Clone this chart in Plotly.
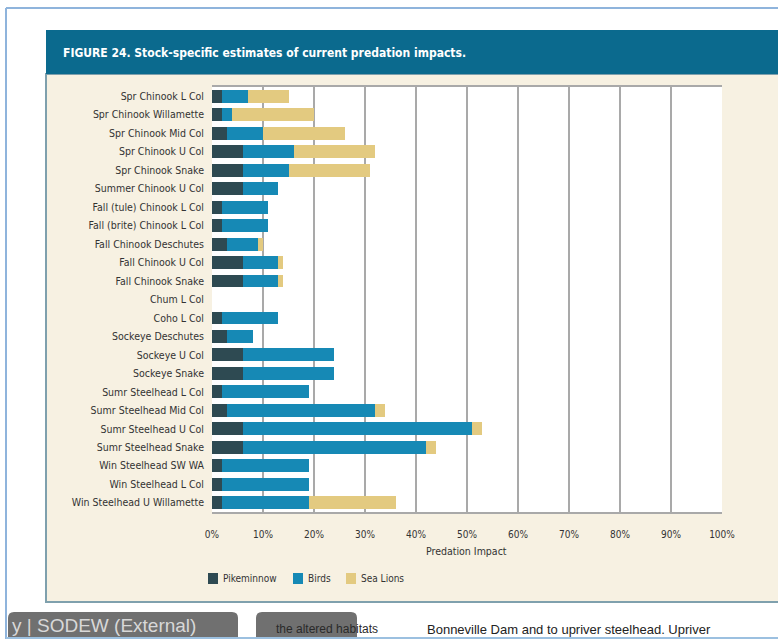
import plotly.graph_objects as go

categories = [
    "Spr Chinook L Col", "Spr Chinook Willamette", "Spr Chinook Mid Col",
    "Spr Chinook U Col", "Spr Chinook Snake", "Summer Chinook U Col",
    "Fall (tule) Chinook L Col", "Fall (brite) Chinook L Col",
    "Fall Chinook Deschutes", "Fall Chinook U Col", "Fall Chinook Snake",
    "Chum L Col", "Coho L Col", "Sockeye Deschutes", "Sockeye U Col",
    "Sockeye Snake", "Sumr Steelhead L Col", "Sumr Steelhead Mid Col",
    "Sumr Steelhead U Col", "Sumr Steelhead Snake", "Win Steelhead SW WA",
    "Win Steelhead L Col", "Win Steelhead U Willamette",
]
pikeminnow = [2, 2, 3, 6, 6, 6, 2, 2, 3, 6, 6, 0, 2, 3, 6, 6, 2, 3, 6, 6, 2, 2, 2]
birds = [5, 2, 7, 10, 9, 7, 9, 9, 6, 7, 7, 0, 11, 5, 18, 18, 17, 29, 45, 36, 17, 17, 17]
sea_lions = [8, 16, 16, 16, 16, 0, 0, 0, 1, 1, 1, 0, 0, 0, 0, 0, 0, 2, 2, 2, 0, 0, 17]
series_names = ["Pikeminnow", "Birds", "Sea Lions"]
x_ticks = [0, 10, 20, 30, 40, 50, 60, 70, 80, 90, 100]
x_tick_labels = ["0%", "10%", "20%", "30%", "40%", "50%", "60%", "70%", "80%", "90%", "100%"]

W, H = 778, 639
L, R, T, B = 212, 722, 87, 512


def px(x):
    return (x - L) / (R - L)


def py(y):
    return (B - y) / (B - T)


FONT = "Liberation Sans Narrow, DejaVu Sans Condensed, Arial Narrow, sans-serif"
SANS = "Liberation Sans, Arial, sans-serif"
C_PIKE = "#2e4a52"
C_BIRD = "#1689b5"
C_SEAL = "#e3ca80"
colors = [C_PIKE, C_BIRD, C_SEAL]
CREAM = "#f7f1e2"
TEAL = "#0b6a8e"
GRID = "#a9a9a9"

fig = go.Figure()
for name, vals, col in zip(series_names, [pikeminnow, birds, sea_lions], colors):
    fig.add_trace(go.Bar(y=categories, x=vals, name=name, orientation="h",
                         marker=dict(color=col, line=dict(width=0))))


def rounded_top(x0, x1, y0, y1, r=6):
    X0, X1 = px(x0), px(x1)
    Y0, Y1 = py(y0), py(y1)
    rx = r / (R - L)
    ry = r / (B - T)
    return (f"M{X0},{Y1} L{X0},{Y0 - ry} Q{X0},{Y0} {X0 + rx},{Y0} "
            f"L{X1 - rx},{Y0} Q{X1},{Y0} {X1},{Y0 - ry} L{X1},{Y1} Z")


shapes = [
    # outer light-blue frame
    dict(type="line", x0=px(6), x1=px(6), y0=py(8), y1=py(639), line=dict(color="#8fb4dc", width=2)),
    dict(type="line", x0=px(6), x1=px(778), y0=py(8), y1=py(8), line=dict(color="#8fb4dc", width=2)),
    # cream panel
    dict(type="rect", x0=px(46), x1=px(779), y0=py(74), y1=py(602), fillcolor=CREAM,
         line=dict(color="#7fa0ad", width=2)),
    # header band
    dict(type="rect", x0=px(46), x1=px(779), y0=py(30), y1=py(74), fillcolor=TEAL, line=dict(width=0)),
    # white plot area
    dict(type="rect", x0=0, x1=1, y0=0, y1=1, fillcolor="white", line=dict(width=0)),
    # bottom buttons
    dict(type="path", path=rounded_top(8, 238, 612, 645), fillcolor="#707070", line=dict(width=0)),
    dict(type="path", path=rounded_top(256, 357, 612, 645), fillcolor="#707070", line=dict(width=0)),
    dict(type="line", x0=px(6), x1=px(778), y0=py(638), y1=py(638), line=dict(color="#9cc0e0", width=2)),
]

# legend swatches (manual, to match the reference spacing)
legend_x = [208, 293, 346]
for lx, col in zip(legend_x, colors):
    shapes.append(dict(type="rect", x0=px(lx), x1=px(lx + 10), y0=py(573), y1=py(584),
                       fillcolor=col, line=dict(width=0)))
for s in shapes:
    s.update(xref="paper", yref="paper", layer="below")

annotations = [
    dict(text="<b>FIGURE 24. Stock-specific estimates of current predation impacts.</b>",
         x=px(61), y=py(53), xanchor="left", yanchor="middle", showarrow=False,
         font=dict(family=FONT, size=12, color="white")),
    dict(text="Predation Impact", x=px(466), y=py(551), xanchor="center", yanchor="middle",
         showarrow=False, font=dict(family=FONT, size=10.5, color="#333333")),
    dict(text="y | SODEW (External)", x=px(10), y=py(625), xanchor="left", yanchor="middle",
         showarrow=False, font=dict(family=SANS, size=19, color="#d8d8d8")),
    dict(text="the altered habitats", x=px(274), y=py(629), xanchor="left", yanchor="middle",
         showarrow=False, font=dict(family=SANS, size=12, color="#2a2a2a")),
    dict(text="Bonneville Dam and to upriver steelhead. Upriver", x=px(425), y=py(629),
         xanchor="left", yanchor="middle", showarrow=False,
         font=dict(family=SANS, size=13, color="#222222")),
]
for lx, name in zip(legend_x, series_names):
    annotations.append(dict(text=name, x=px(lx + 13), y=py(578.5), xanchor="left", yanchor="middle",
                            showarrow=False, font=dict(family=FONT, size=10, color="#333333")))
for a in annotations:
    a.update(xref="paper", yref="paper")

fig.update_layout(
    width=W, height=H,
    margin=dict(l=L, r=W - R, t=T, b=H - B, pad=0),
    paper_bgcolor="white", plot_bgcolor="white",
    barmode="stack", bargap=0.3,
    font=dict(family=FONT, size=10, color="#333333"),
    shapes=shapes, annotations=annotations,
    showlegend=False,
    xaxis=dict(range=[0, 100], tickvals=x_ticks, ticktext=x_tick_labels, showgrid=True,
               gridcolor=GRID, gridwidth=2, showline=True, mirror=True, linecolor=GRID,
               linewidth=2, zeroline=False, ticks="", ticklabelstandoff=12,
               tickfont=dict(family=FONT, size=10, color="#333333"), fixedrange=True),
    yaxis=dict(categoryorder="array", categoryarray=categories, autorange="reversed",
               showgrid=False, showline=False, ticks="", ticklabelstandoff=7,
               tickfont=dict(family=FONT, size=10.5, color="#333333"), fixedrange=True),
)

fig.write_html("out.html")
